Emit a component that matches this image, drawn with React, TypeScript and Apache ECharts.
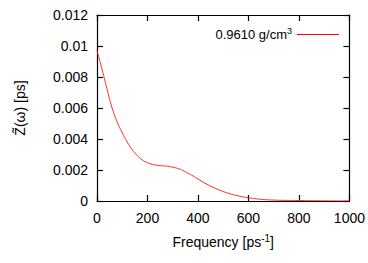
import React, { useEffect, useRef } from "react";
import * as echarts from "echarts";

const freq = [0, 20, 40, 60, 80, 100, 120, 140, 160, 180, 200, 220, 240, 260, 280, 300, 320, 340, 360, 380, 400, 440, 480, 520, 560, 600, 650, 700, 750, 800, 850, 900, 950, 1000];
const zval = [0.0097, 0.0085, 0.0072, 0.006, 0.0051, 0.0044, 0.0038, 0.0033, 0.00293, 0.00265, 0.00247, 0.00236, 0.0023, 0.00227, 0.00224, 0.00218, 0.0021, 0.00197, 0.0018, 0.00162, 0.00142, 0.00104, 0.00074, 0.0005, 0.00033, 0.00021, 0.00011, 0.00006, 0.00004, 0.00003, 0.00002, 0.00001, 0.000005, 0.000003];
const seriesName = "0.9610 g/cm3";

export default function App() {
  const ref = useRef<HTMLDivElement>(null);
  useEffect(() => {
    const chart = echarts.init(ref.current!, null, { renderer: "svg" });
    const font = "Liberation Sans, Arial, sans-serif";
    const axisCommon = {
      axisLine: { show: true, onZero: false, lineStyle: { color: "#000", width: 1.2 } },
      axisTick: { show: true, inside: true, length: 6, lineStyle: { color: "#000", width: 1.2 } },
      splitLine: { show: false },
    };
    chart.setOption({
      animation: false,
      textStyle: { fontFamily: font },
      grid: { left: 97, right: 11, top: 15, bottom: 62, containLabel: false },
      legend: {
        right: 24,
        top: 21,
        align: "right",
        itemWidth: 42,
        itemHeight: 14,
        icon: "path://M0,7 L42,7 L42,8 L0,8 Z",
        data: [seriesName],
        formatter: () => "{a|0.9610 g/cm}{s|3}",
        textStyle: {
          rich: {
            a: { fontSize: 13, color: "#000", fontFamily: font },
            s: { fontSize: 9, color: "#000", fontFamily: font, verticalAlign: "top", padding: [0, 0, 8, 0] },
          },
        },
      },
      xAxis: [
        {
          type: "value",
          min: 0,
          max: 1000,
          interval: 200,
          position: "bottom",
          ...axisCommon,
          axisLabel: { fontSize: 14, color: "#000", margin: 10, fontFamily: font, formatter: (v: number) => String(v) },
          name: "{a|Frequency [ps}{s|-1}{a|]}",
          nameLocation: "middle",
          nameGap: 32,
          nameTextStyle: {
            rich: {
              a: { fontSize: 14, color: "#000", fontFamily: font },
              s: { fontSize: 10, color: "#000", fontFamily: font, verticalAlign: "top", padding: [0, 0, 8, 0] },
            },
          },
        },
        {
          type: "value",
          min: 0,
          max: 1000,
          interval: 200,
          position: "top",
          ...axisCommon,
          axisLabel: { show: false },
        },
      ],
      yAxis: [
        {
          type: "value",
          min: 0,
          max: 0.012,
          interval: 0.002,
          position: "left",
          ...axisCommon,
          axisLabel: { fontSize: 14, color: "#000", margin: 9, fontFamily: font },
          name: "Z\u0303(\u03c9) [ps]",
          nameLocation: "middle",
          nameGap: 70,
          nameRotate: 90,
          nameTextStyle: { fontSize: 14, color: "#000", fontFamily: font },
        },
        {
          type: "value",
          min: 0,
          max: 0.012,
          interval: 0.002,
          position: "right",
          ...axisCommon,
          axisLabel: { show: false },
        },
      ],
      series: [
        {
          name: seriesName,
          type: "line",
          smooth: true,
          showSymbol: false,
          symbol: "none",
          color: "#ff0000",
          lineStyle: { color: "#ff2a2a", width: 1 },
          data: freq.map((f, i) => [f, zval[i]]),
        },
      ],
    });
    return () => chart.dispose();
  }, []);
  return <div ref={ref} style={{ width: 368, height: 263, position: "absolute", left: 0, top: 0 }} />;
}
